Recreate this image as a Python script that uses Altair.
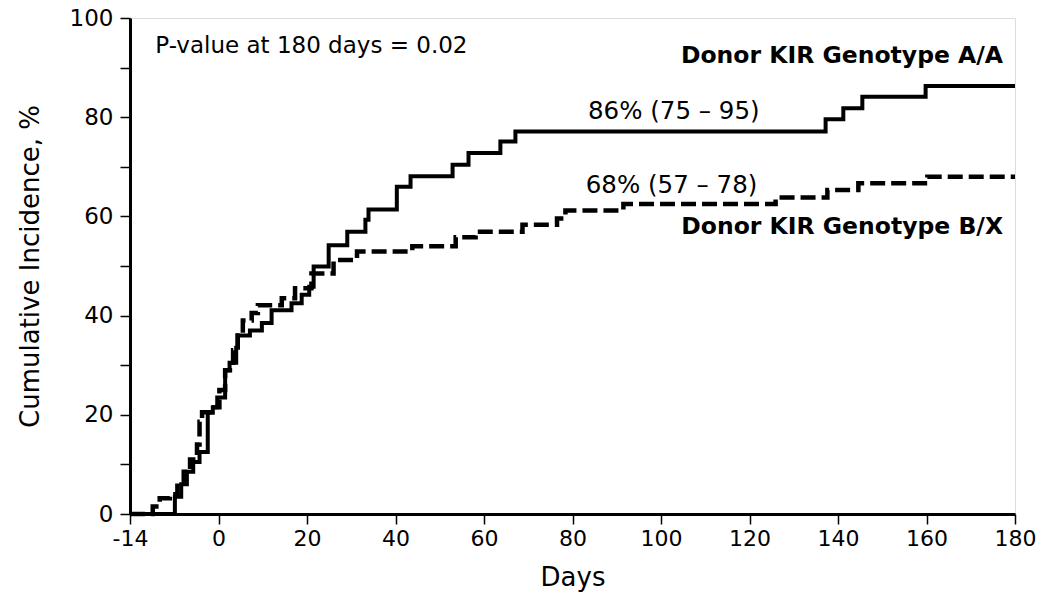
import altair as alt
import pandas as pd

# Donor KIR Genotype A/A (solid) - step points (day, cumulative incidence %)
aa_days = [-14, -6.9, -5.9, -5.0, -4.0, -3.0, -1.7, -0.9, -0.2, 1.5, 2.5, 4.0, 4.4,
           7.1, 9.8, 12.0, 16.5, 18.8, 20.5, 21.5, 24.9, 29.1, 33.2, 33.9, 40.3,
           43.4, 52.9, 56.5, 63.7, 67.1, 137.2, 141.2, 145.5, 159.8, 180]
aa_vals = [0, 3.5, 6.0, 8.5, 10.5, 12.5, 20.4, 21.5, 23.5, 29.0, 30.5, 33.5, 36.0,
           37.0, 38.5, 41.1, 42.5, 44.2, 45.8, 49.9, 54.2, 56.9, 59.3, 61.4, 66.0,
           68.1, 70.4, 72.8, 75.1, 77.1, 79.6, 81.8, 84.1, 86.3, 86.3]

# Donor KIR Genotype B/X (dashed)
bx_days = [-14, -10.4, -9.3, -7.7, -6.5, -5.5, -4.5, -3.4, -3.0, -2.6, -1.0, 0.2,
           1.5, 3.3, 4.3, 5.5, 7.5, 8.9, 14.3, 17.3, 21.0, 26.0, 31.3, 43.8, 53.6,
           58.1, 68.7, 76.5, 78.4, 91.5, 125.9, 137.6, 144.6, 160.2, 180]
bx_vals = [0, 1.5, 3.2, 4.0, 6.5, 8.5, 11.0, 14.0, 18.6, 20.5, 21.5, 25.0,
           29.0, 33.0, 36.0, 39.0, 40.5, 42.1, 43.5, 45.5, 48.5, 51.2, 52.9, 54.0, 55.8,
           56.9, 58.3, 59.6, 61.2, 62.5, 63.8, 65.3, 66.7, 68.0, 68.0]

x_ticks = [-14, 0, 20, 40, 60, 80, 100, 120, 140, 160, 180]
y_ticks = [0, 10, 20, 30, 40, 50, 60, 70, 80, 90, 100]

# annotations
note_text = ["P-value at 180 days = 0.02", "86% (75 \u2013 95)", "68% (57 \u2013 78)"]
note_x = [-10.0, 83.5, 83.0]
note_y = [94.4, 81.0, 66.1]
note_size = [23, 24.5, 24.5]

grp_text = ["Donor KIR Genotype A/A", "Donor KIR Genotype B/X"]
grp_x = [177.3, 177.3]
grp_y = [92.3, 57.9]

W, H = 885, 496
FONT = "DejaVu Sans"

df = pd.concat([
    pd.DataFrame({"day": aa_days, "ci": aa_vals, "grp": "A/A"}),
    pd.DataFrame({"day": bx_days, "ci": bx_vals, "grp": "B/X"}),
])

xscale = alt.Scale(domain=[-14, 0, 180], range=[0, W * 20 / 200, W])
yscale = alt.Scale(domain=[0, 100], nice=False, zero=False)

xaxis = alt.Axis(values=x_ticks, title="Days", grid=False, tickSize=10, tickWidth=1.5,
                 tickColor="black", domainColor="black", domainWidth=3,
                 labelFont=FONT, labelFontSize=22, labelColor="black", labelPadding=4,
                 labelExpr="'' + datum.value",
                 titleFont=FONT, titleFontSize=26, titleFontWeight="normal",
                 titleColor="black", titlePadding=15, labelFlush=False)
yaxis = alt.Axis(values=y_ticks, title="Cumulative Incidence, %", grid=False,
                 tickSize=10, tickWidth=1.5, tickColor="black", domainColor="black",
                 domainWidth=3, labelFont=FONT, labelFontSize=23, labelColor="black",
                 labelPadding=7, labelExpr="datum.value % 20 == 0 ? datum.label : ''",
                 labelFlush=False,
                 titleFont=FONT, titleFontSize=26, titleFontWeight="normal",
                 titleColor="black", titlePadding=26)

base = alt.Chart(df)

solid = base.transform_filter(alt.datum.grp == "A/A").mark_line(
    interpolate="step-after", color="black", strokeWidth=4, strokeCap="butt"
).encode(
    x=alt.X("day:Q", scale=xscale, axis=xaxis),
    y=alt.Y("ci:Q", scale=yscale, axis=yaxis),
)

dashed = base.transform_filter(alt.datum.grp == "B/X").mark_line(
    interpolate="step-after", color="black", strokeWidth=4.5, strokeDash=[15, 6],
    strokeCap="butt"
).encode(
    x=alt.X("day:Q", scale=xscale),
    y=alt.Y("ci:Q", scale=yscale),
)

notes_df = pd.DataFrame({"t": note_text, "x": note_x, "y": note_y, "s": note_size})
notes = alt.Chart(notes_df).mark_text(
    align="left", baseline="middle", font=FONT, color="black"
).encode(x=alt.X("x:Q", scale=xscale), y=alt.Y("y:Q", scale=yscale), text="t:N",
         size=alt.Size("s:Q", scale=None, legend=None))

grp_df = pd.DataFrame({"t": grp_text, "x": grp_x, "y": grp_y})
grps = alt.Chart(grp_df).mark_text(
    align="right", baseline="middle", font=FONT, fontSize=23.5, fontWeight="bold",
    color="black"
).encode(x=alt.X("x:Q", scale=xscale), y=alt.Y("y:Q", scale=yscale), text="t:N")

chart = alt.layer(solid, dashed, notes, grps).properties(
    width=W, height=H,
    autosize=alt.AutoSizeParams(type="none"),
    padding={"left": 122, "top": 10, "right": 25, "bottom": 85},
).configure_view(stroke="black", strokeWidth=2).configure(background="white")

chart.save("out.html", embed_options={"renderer": "svg", "actions": False})
